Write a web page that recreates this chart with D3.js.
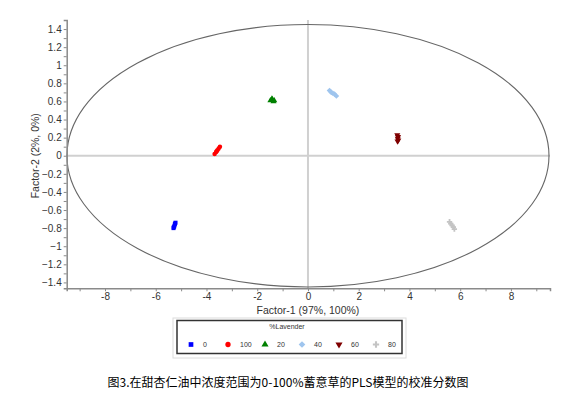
<!DOCTYPE html>
<html>
<head>
<meta charset="utf-8">
<script src="https://cdn.jsdelivr.net/npm/d3@7"></script>
<style>
  body { margin: 0; background: #fff; }
  svg { display: block; }
</style>
</head>
<body>
<svg id="chart" width="579" height="396"></svg>
<script>
// legend classes (%Lavender)
const groups = ["0", "100", "20", "40", "60", "80"];
const colors = ["#0000ff", "#ff0000", "#008000", "#9fc5ee", "#7f0000", "#c4c4c4"];
const shapes = ["square", "circle", "triangle", "diamond", "triangleDown", "plus"];

// score values per class
const f1_0 = [-5.22, -5.25, -5.27, -5.30, -5.24, -5.29];
const f2_0 = [-0.74, -0.76, -0.78, -0.80, -0.75, -0.79];
const f1_100 = [-3.68, -3.62, -3.57, -3.52, -3.47, -3.60];
const f2_100 = [0.02, 0.04, 0.06, 0.08, 0.10, 0.05];
const f1_20 = [-1.48, -1.40, -1.33, -1.42, -1.36];
const f2_20 = [0.61, 0.62, 0.61, 0.63, 0.60];
const f1_40 = [0.85, 0.92, 0.98, 1.05, 1.12];
const f2_40 = [0.72, 0.70, 0.69, 0.68, 0.66];
const f1_60 = [3.52, 3.55, 3.54, 3.56, 3.53];
const f2_60 = [0.23, 0.21, 0.19, 0.17, 0.16];
const f1_80 = [5.58, 5.63, 5.68, 5.73, 5.77];
const f2_80 = [-0.73, -0.75, -0.77, -0.79, -0.81];

const xTicks = [-8, -6, -4, -2, 0, 2, 4, 6, 8];
const yTicks = [-1.4, -1.2, -1, -0.8, -0.6, -0.4, -0.2, 0, 0.2, 0.4, 0.6, 0.8, 1, 1.2, 1.4];
const ellipseR = [9.5, 1.45];

const xLabel = "Factor-1 (97%, 100%)";
const yLabel = "Factor-2 (2%, 0%)";
const legendTitle = "%Lavender";
const caption = "图3.在甜杏仁油中浓度范围为0-100%蓄意草的PLS模型的校准分数图";

const series = [
    [f1_0, f2_0], [f1_100, f2_100], [f1_20, f2_20],
    [f1_40, f2_40], [f1_60, f2_60], [f1_80, f2_80]
].map(([xs, ys], i) => ({
    key: groups[i],
    color: colors[i],
    shape: shapes[i],
    values: xs.map((x, j) => ({ x: x, y: ys[j] }))
}));

const svg = d3.select("svg#chart");
const font = "'Liberation Sans', Arial, sans-serif";

const xScale = d3.scaleLinear().domain([-9.51, 9.54]).range([66.7, 550]);
const yScale = d3.scaleLinear().domain([-1.465, 1.5]).range([288.3, 20]);

function symbolFor(shape, size) {
    const types = {
        square: d3.symbolSquare, circle: d3.symbolCircle, triangle: d3.symbolTriangle,
        diamond: d3.symbolSquare, triangleDown: d3.symbolTriangle, plus: d3.symbolCross
    };
    return d3.symbol(types[shape], size)();
}
// diamond = square turned 45deg, down triangle = triangle turned 180deg
function symbolRotate(shape) {
    if (shape === "diamond") return " rotate(45)";
    if (shape === "triangleDown") return " rotate(180)";
    return "";
}

// crosshair at the origin
svg.append("line")
    .attr("x1", xScale(0)).attr("x2", xScale(0))
    .attr("y1", yScale.range()[1]).attr("y2", yScale.range()[0])
    .attr("stroke", "#d0d0d0").attr("stroke-width", 2);
svg.append("line")
    .attr("x1", xScale.range()[0]).attr("x2", xScale.range()[1])
    .attr("y1", yScale(0)).attr("y2", yScale(0))
    .attr("stroke", "#d0d0d0").attr("stroke-width", 2);

// confidence ellipse
svg.append("ellipse")
    .attr("cx", xScale(0)).attr("cy", yScale(0))
    .attr("rx", xScale(ellipseR[0]) - xScale(0))
    .attr("ry", yScale(0) - yScale(ellipseR[1]))
    .attr("fill", "none").attr("stroke", "#666").attr("stroke-width", 1.1);

// x axis
const xAxisG = svg.append("g")
    .attr("transform", `translate(0,${yScale.range()[0]})`)
    .call(d3.axisBottom(xScale).tickValues(d3.range(-9, 10, 1)).tickSize(3).tickPadding(2)
        .tickFormat(d => xTicks.includes(d) ? d : ""));
// y axis
const yAxisG = svg.append("g")
    .attr("transform", `translate(${xScale.range()[0]},0)`)
    .call(d3.axisLeft(yScale).tickValues(d3.range(-14, 15, 1).map(d => d / 10)).tickSize(3)
        .tickFormat(d => yTicks.some(t => Math.abs(t - d) < 1e-9) ? d3.format("")(d) : ""));

[xAxisG, yAxisG].forEach(g => {
    g.select(".domain").attr("stroke", "#8a8a8a").attr("stroke-width", 1.5);
    g.selectAll(".tick line").attr("stroke", "#8a8a8a");
    g.selectAll(".tick text").attr("fill", "#333").style("font", `10px ${font}`);
});
yAxisG.selectAll(".tick text").attr("x", -5);

// axis titles
svg.append("text")
    .attr("x", xScale(0)).attr("y", 314)
    .attr("text-anchor", "middle").attr("fill", "#333")
    .style("font", `10.5px ${font}`).text(xLabel);
svg.append("text")
    .attr("transform", `translate(39,${yScale(0)}) rotate(-90)`)
    .attr("text-anchor", "middle").attr("fill", "#333")
    .style("font", `10.5px ${font}`).text(yLabel);

// points
series.forEach(s => {
    svg.append("g").selectAll("path").data(s.values)
        .join("path")
        .attr("d", symbolFor(s.shape, 16))
        .attr("transform", d => `translate(${xScale(d.x)},${yScale(d.y)})${symbolRotate(s.shape)}`)
        .attr("fill", s.color);
});

// legend
const legend = svg.append("g");
legend.append("rect")
    .attr("x", 173).attr("y", 318).attr("width", 233).attr("height", 40)
    .attr("fill", "none").attr("stroke", "#dcdcdc").attr("stroke-width", 1);
legend.append("rect")
    .attr("x", 177).attr("y", 320.5).attr("width", 225).attr("height", 33)
    .attr("fill", "#fff").attr("stroke", "#333").attr("stroke-width", 1.5);
legend.append("text")
    .attr("x", 287).attr("y", 329)
    .attr("text-anchor", "middle").attr("fill", "#333")
    .style("font", `7px ${font}`).text(legendTitle);
const itemX = d3.scalePoint().domain(groups).range([191, 376]);
const items = legend.selectAll("g.item").data(series).join("g")
    .attr("transform", d => `translate(${itemX(d.key)},344.5)`);
items.append("path")
    .attr("d", d => symbolFor(d.shape, 22))
    .attr("transform", d => symbolRotate(d.shape).trim() || null)
    .attr("fill", d => d.color);
items.append("text")
    .attr("x", 12).attr("dy", "0.35em").attr("fill", "#333")
    .style("font", `7px ${font}`).text(d => d.key);

// caption
svg.append("text")
    .attr("x", 288).attr("y", 387)
    .attr("text-anchor", "middle").attr("fill", "#000")
    .style("font", "12px 'Noto Sans CJK SC', sans-serif").text(caption);
</script>
</body>
</html>
